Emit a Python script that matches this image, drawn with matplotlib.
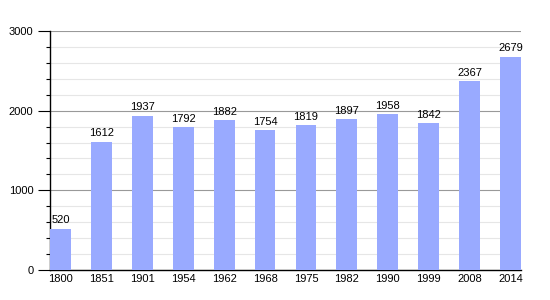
import matplotlib
matplotlib.use("Agg")
import matplotlib.pyplot as plt
from matplotlib.ticker import MultipleLocator

plt.rcParams['font.family'] = ['Liberation Sans', 'DejaVu Sans']

years = ["1800", "1851", "1901", "1954", "1962", "1968", "1975", "1982", "1990", "1999", "2008", "2014"]
population = [520, 1612, 1937, 1792, 1882, 1754, 1819, 1897, 1958, 1842, 2367, 2679]

fig = plt.figure(figsize=(5.5, 3.0), dpi=100)
ax = fig.add_axes([50/550, 1-270/300, 471/550, 239/300])

x = list(range(len(years)))
w = 0.51
bars = ax.bar(x, population, width=w, color="#99aaff", zorder=3)
for xi, v in zip(x, population):
    ax.text(xi, v + 40, str(v), ha="center", va="bottom", fontsize=8, color="black", zorder=4)

ax.set_xlim(-w/2, len(years) - 1 + w/2)
ax.set_ylim(0, 3000)
ax.set_xticks(x)
ax.set_xticklabels(years, fontsize=8)
ax.yaxis.set_major_locator(MultipleLocator(1000))
ax.yaxis.set_minor_locator(MultipleLocator(200))
ax.tick_params(axis="y", which="major", labelsize=8, length=9, width=0.8, color="black", pad=3)
ax.tick_params(axis="y", which="minor", length=3, width=0.8, color="black")
ax.tick_params(axis="x", length=0, pad=3)
ax.grid(which="minor", axis="y", color="#e6e6e6", linewidth=0.8, zorder=0)
ax.grid(which="major", axis="y", color="#999999", linewidth=0.8, zorder=1)
for s in ["top", "right"]:
    ax.spines[s].set_visible(False)
ax.spines["left"].set_color("black")
ax.spines["bottom"].set_color("black")
ax.spines["left"].set_linewidth(1)
ax.spines["bottom"].set_linewidth(1)

fig.savefig("out.png", dpi=100)
